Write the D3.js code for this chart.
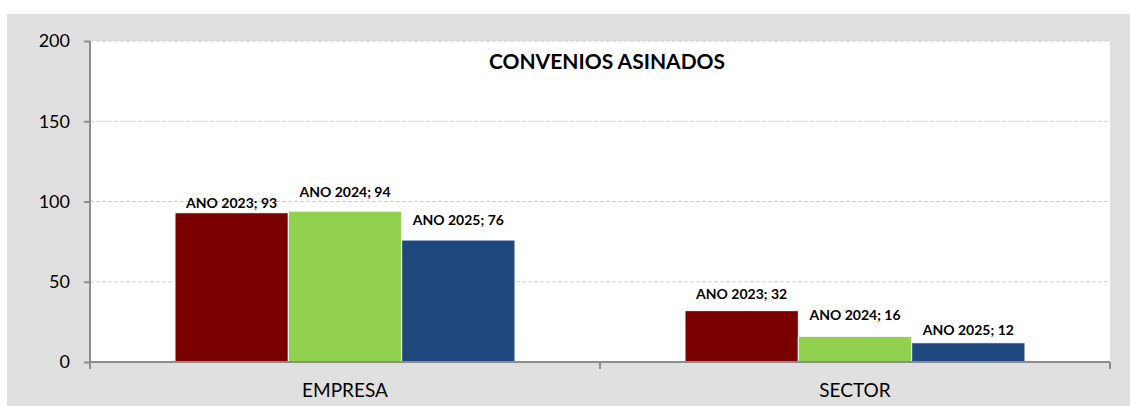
<!DOCTYPE html>
<html>
<head>
<meta charset="utf-8">
<script src="https://cdn.jsdelivr.net/npm/d3@7"></script>
<style>
  html, body { margin: 0; padding: 0; background: #fff; }
  svg { display: block; }
</style>
</head>
<body>
<div id="chart"></div>
<script>
// datos do gráfico
const categories = ['EMPRESA', 'SECTOR'];
const seriesNames = ['ANO 2023', 'ANO 2024', 'ANO 2025'];
const values2023 = [93, 32];
const values2024 = [94, 16];
const values2025 = [76, 12];
const yTicks = [0, 50, 100, 150, 200];

const colors = ['#7a0000', '#92d050', '#1f497d'];
// altura extra das etiquetas (Excel desprázaas para non solaparse)
const labelLift = [[5, 14, 15], [12, 16, 8]];

const W = 1130, H = 406;
const plot = { left: 90, right: 1110, top: 41, bottom: 362 };

const svg = d3.select('#chart').append('svg')
    .attr('width', W)
    .attr('height', H);

// fondo gris
svg.append('rect')
    .attr('x', 7).attr('y', 14)
    .attr('width', W - 7).attr('height', H - 14)
    .attr('fill', '#e0e0e0');

// área do gráfico
svg.append('rect')
    .attr('x', plot.left).attr('y', plot.top)
    .attr('width', plot.right - plot.left).attr('height', plot.bottom - plot.top)
    .attr('fill', '#fff');

const x0 = d3.scaleBand()
    .domain(categories)
    .range([plot.left, plot.right])
    .paddingInner(0).paddingOuter(0);

const x1 = d3.scaleBand()
    .domain(seriesNames)
    .range([0, x0.bandwidth()])
    .paddingOuter(0.75).paddingInner(0);

const y = d3.scaleLinear()
    .domain([0, 200])
    .range([plot.bottom, plot.top]);

// liñas de cuadrícula
svg.append('g')
    .selectAll('line')
    .data(yTicks.filter(d => d > 0))
    .enter().append('line')
    .attr('x1', plot.left).attr('x2', plot.right)
    .attr('y1', d => y(d)).attr('y2', d => y(d))
    .attr('stroke', '#d0d0d0')
    .attr('stroke-width', 1)
    .attr('stroke-dasharray', '4,2');

// barras
const rows = categories.map((c, i) => ({
    cat: c,
    vals: [values2023[i], values2024[i], values2025[i]]
}));

const groups = svg.append('g')
    .selectAll('g')
    .data(rows)
    .enter().append('g')
    .attr('transform', d => `translate(${x0(d.cat)},0)`);

groups.selectAll('rect')
    .data(d => d.vals.map((v, j) => ({ name: seriesNames[j], v, j })))
    .enter().append('rect')
    .attr('x', d => x1(d.name))
    .attr('y', d => y(d.v))
    .attr('width', x1.bandwidth())
    .attr('height', d => y(0) - y(d.v))
    .attr('fill', d => colors[d.j])
    .attr('stroke', '#fff')
    .attr('stroke-width', 1);

// etiquetas de datos
groups.each(function (row, i) {
    d3.select(this).selectAll('text')
        .data(row.vals.map((v, j) => ({ name: seriesNames[j], v, j })))
        .enter().append('text')
        .attr('x', d => x1(d.name) + x1.bandwidth() / 2)
        .attr('y', d => y(d.v) - labelLift[i][d.j])
        .attr('text-anchor', 'middle')
        .attr('font-family', 'Lato, sans-serif')
        .attr('font-weight', 'bold')
        .attr('font-size', '14px')
        .attr('fill', '#000')
        .text(d => `${d.name}; ${d.v}`);
});

// eixo Y
const yAxis = svg.append('g')
    .attr('transform', `translate(${plot.left},0)`)
    .call(d3.axisLeft(y).tickValues(yTicks).tickSize(6).tickPadding(14));
yAxis.select('.domain').attr('stroke', '#8c8c8c').attr('stroke-width', 2).attr('d', `M0,${plot.top}V${plot.bottom}`);
yAxis.selectAll('.tick line').attr('stroke', '#8c8c8c').attr('stroke-width', 2);
yAxis.selectAll('.tick text')
    .attr('font-family', 'Lato, sans-serif')
    .attr('font-size', '18px')
    .attr('fill', '#000');

// eixo X
const xAxis = svg.append('g')
    .attr('transform', `translate(0,${plot.bottom})`)
    .call(d3.axisBottom(x0).tickSize(0).tickPadding(22));
xAxis.select('.domain').attr('stroke', '#8c8c8c').attr('stroke-width', 2).attr('d', `M${plot.left},0H${plot.right}`);
xAxis.selectAll('.tick text')
    .attr('font-family', 'Lato, sans-serif')
    .attr('font-size', '19px')
    .attr('fill', '#000');

// marcas entre categorías
const sep = [plot.left, ...categories.map(c => x0(c) + x0.bandwidth())];
xAxis.selectAll('.sep')
    .data(sep)
    .enter().append('line')
    .attr('class', 'sep')
    .attr('x1', d => d).attr('x2', d => d)
    .attr('y1', 0).attr('y2', 7)
    .attr('stroke', '#8c8c8c')
    .attr('stroke-width', 2);

// título
svg.append('text')
    .attr('x', (plot.left + plot.right) / 2 + 7)
    .attr('y', 69)
    .attr('text-anchor', 'middle')
    .attr('font-family', 'Lato, sans-serif')
    .attr('font-weight', 'bold')
    .attr('font-size', '21px')
    .attr('fill', '#000')
    .text('CONVENIOS ASINADOS');
</script>
</body>
</html>
